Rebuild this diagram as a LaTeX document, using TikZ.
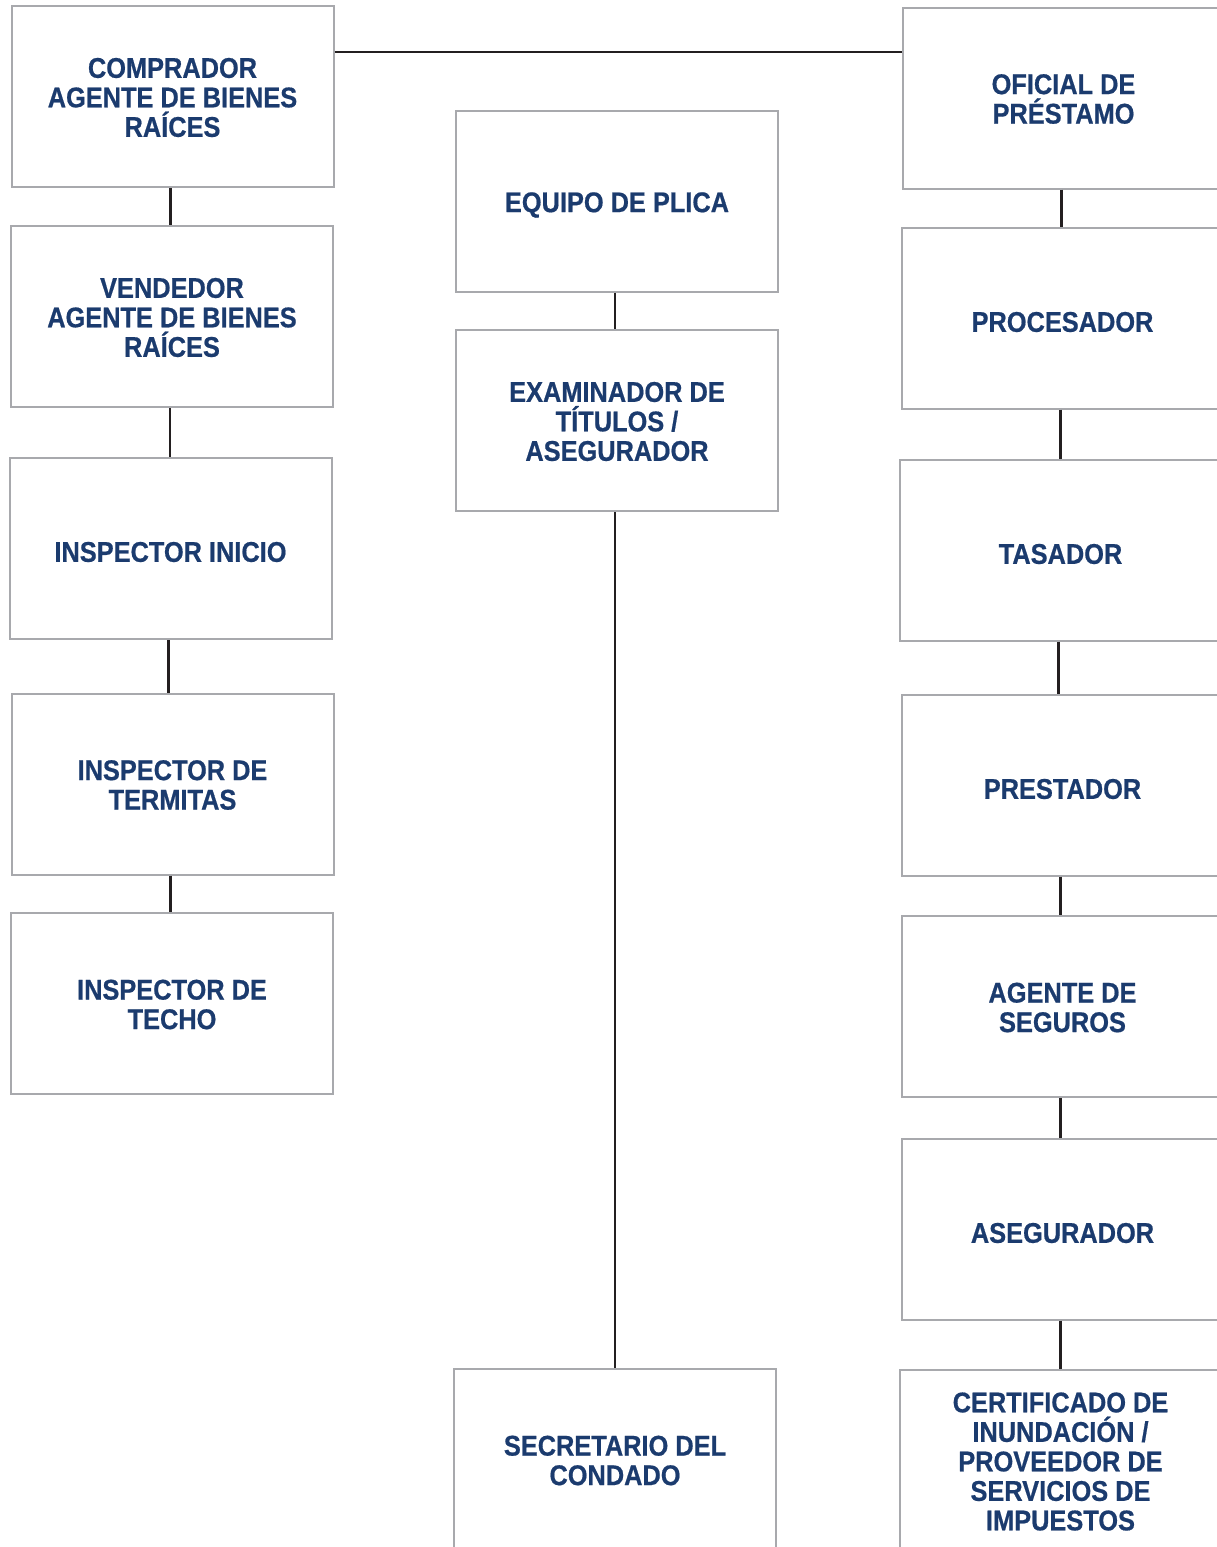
\documentclass[tikz,border=0pt]{standalone}
\usepackage{fontspec}
\setmainfont{Liberation Sans}[FakeStretch=0.89,BoldFeatures={FakeBold=0.6}]
\definecolor{txtblue}{HTML}{1B3B6E}
\definecolor{boxgray}{HTML}{A8A9AD}
\definecolor{linedark}{HTML}{231F20}
\tikzset{
  box/.style={draw=boxgray, line width=2pt, fill=white, minimum width=322pt, minimum height=181pt,
    inner sep=0pt},
  txt/.style={inner sep=0pt, align=center, text=txtblue, font=\bfseries\fontsize{28.5}{29.5}\selectfont},
  conn/.style={draw=linedark, line width=2.5pt}
}
\newcommand\bx[5][-1]{\node[box] (#2) at (#3,#4) {};
  \node[txt] (#2t) at ([yshift=#1pt]#2.center) {#5};}
\begin{document}
\begin{tikzpicture}[x=1pt,y=-1pt]
\useasboundingbox (0,0) rectangle (1217,1547);
\clip (0,0) rectangle (1217,1547);
% left column
\bx{L1}{172.5}{96.5}{COMPRADOR\\AGENTE DE BIENES\\RAÍCES}
\bx{L2}{172}{316.5}{VENDEDOR\\AGENTE DE BIENES\\RAÍCES}
\bx[-3.5]{L3}{170.5}{548.5}{INSPECTOR INICIO}
\bx{L4}{172.5}{784}{INSPECTOR DE\\TERMITAS}
\bx{L5}{172}{1003.5}{INSPECTOR DE\\TECHO}
% middle column
\bx[-4]{M1}{617}{201}{EQUIPO DE PLICA}
\bx{M2}{617}{420.5}{EXAMINADOR DE\\TÍTULOS /\\ASEGURADOR}
\bx{M3}{615}{1459.5}{SECRETARIO DEL\\CONDADO}
% right column
\bx{R1}{1063.5}{98}{OFICIAL DE\\PRÉSTAMO}
\bx[-4]{R2}{1062.5}{318}{PROCESADOR}
\bx[-4]{R3}{1060.5}{550}{TASADOR}
\bx[-4]{R4}{1062.5}{785}{PRESTADOR}
\bx{R5}{1062.5}{1006.5}{AGENTE DE\\SEGUROS}
\bx[-4]{R6}{1062.5}{1229}{ASEGURADOR}
\bx{R7}{1060.5}{1460.5}{CERTIFICADO DE\\INUNDACIÓN /\\PROVEEDOR DE\\SERVICIOS DE\\IMPUESTOS}
% connectors
\draw[conn] ([yshift=44.5pt]L1.east) -- ([yshift=44.5pt]L1.east -| R1.west);
\foreach \a/\b in {L1/L2,L2/L3,L3/L4,L4/L5,M1/M2,M2/M3,R1/R2,R2/R3,R3/R4,R4/R5,R5/R6,R6/R7}
  \draw[conn] ([xshift=-2pt]\a.south) -- ([xshift=-2pt]\a.south |- \b.north);
\end{tikzpicture}
\end{document}
